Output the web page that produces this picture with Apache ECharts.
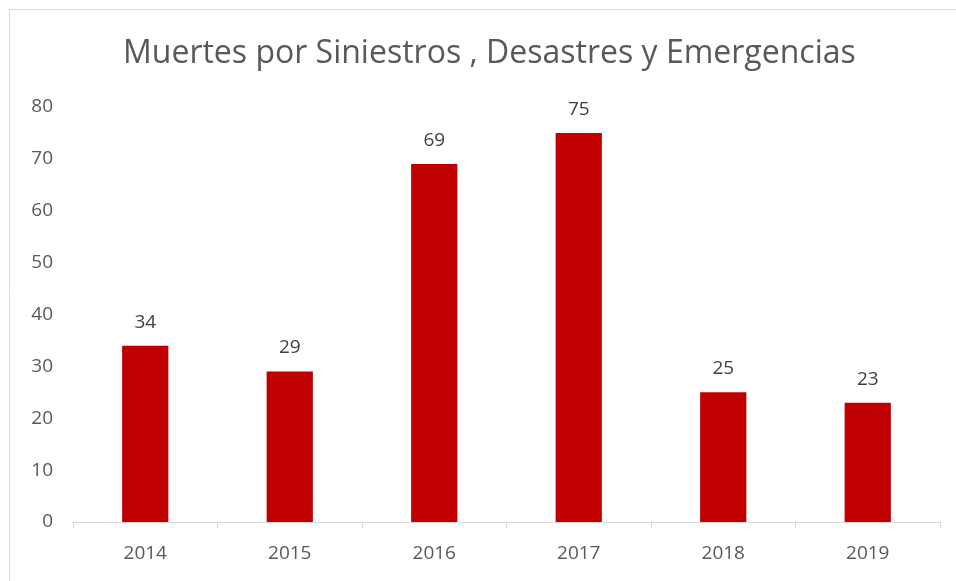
<!DOCTYPE html>
<html><head><meta charset="utf-8">
<script src="https://cdn.jsdelivr.net/npm/echarts@6/dist/echarts.min.js"></script>
<style>html,body{margin:0;padding:0;background:#fff;}#c{width:956px;height:581px;}</style>
</head><body><div id="c"></div>
<script>
const categories = ['2014','2015','2016','2017','2018','2019'];
const values = [34, 29, 69, 75, 25, 23];
const yTicks = [0,10,20,30,40,50,60,70,80];

const chart = echarts.init(document.getElementById('c'));
chart.setOption({
  animation: false,
  backgroundColor: '#fff',
  graphic: [{type:'rect', shape:{x:9.5,y:9.5,width:960,height:600}, style:{fill:'none', stroke:'#d9d9d9', lineWidth:1}, silent:true}],
  title: {
    text: 'Muertes por Siniestros , Desastres y Emergencias',
    left: 118, top: 33,
    textStyle: {fontFamily:'Open Sans', fontWeight:'normal', fontSize:32, color:'#595959'}
  },
  grid: {left:73, right:16, top:107, bottom:59},
  xAxis: {
    type:'category', data: categories,
    axisLine:{lineStyle:{color:'#d9d9d9', width:1}},
    axisTick:{show:true, alignWithLabel:false, length:6, lineStyle:{color:'#d9d9d9'}},
    axisLabel:{fontFamily:'Open Sans', fontSize:19, color:'#595959', margin:22}
  },
  yAxis: {
    type:'value', min: yTicks[0], max: yTicks[yTicks.length-1], interval:10,
    axisLine:{show:false}, axisTick:{show:false}, splitLine:{show:false},
    axisLabel:{fontFamily:'Open Sans', fontSize:19, color:'#595959', margin:20}
  },
  series: [{
    type:'bar', data: values, barWidth:'32%',
    itemStyle:{color:'#C00000'},
    label:{show:true, position:'top', distance:14, fontFamily:'Open Sans', fontSize:19, color:'#404040'}
  }]
});
</script></body></html>
